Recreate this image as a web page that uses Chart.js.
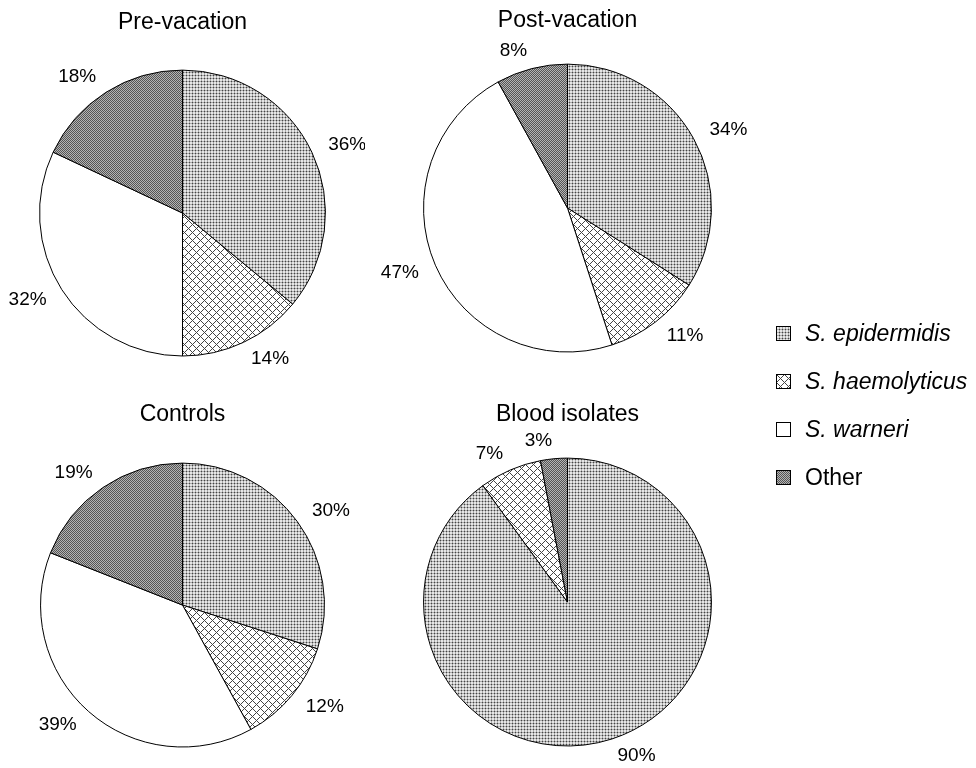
<!DOCTYPE html>
<html>
<head>
<meta charset="utf-8">
<script src="https://cdn.jsdelivr.net/npm/chart.js@4.4.1/dist/chart.umd.min.js"></script>
<style>
  body { margin: 0; background: #fff; width: 976px; height: 768px; position: relative; overflow: hidden;
         font-family: "Liberation Sans", Arial, Helvetica, sans-serif; }
  canvas.pie { position: absolute; }
  #legend { position: absolute; left: 776px; top: 309px; }
  .row { height: 48px; display: flex; align-items: center; font-size: 23px; color: #000; }
  .row canvas { margin-right: 14px; }
</style>
</head>
<body>
<canvas id="pre" class="pie" width="365" height="384" style="left:0;top:0"></canvas>
<canvas id="post" class="pie" width="405" height="384" style="left:365px;top:0"></canvas>
<canvas id="controls" class="pie" width="365" height="384" style="left:0;top:384px"></canvas>
<canvas id="blood" class="pie" width="405" height="384" style="left:365px;top:384px"></canvas>
<div id="legend"></div>
<script>
// data (percent of isolates)
const speciesLabels = ['S. epidermidis', 'S. haemolyticus', 'S. warneri', 'Other'];
const preVacation = [36, 14, 32, 18];
const postVacation = [34, 11, 47, 8];
const controls = [30, 12, 39, 19];
const bloodIsolates = [90, 7, 0, 3];

const FONT = '"Liberation Sans", Arial, Helvetica, sans-serif';

// small bitmap tiles to imitate the printed fill patterns
function makeTile(size, fn) {
    const c = document.createElement('canvas');
    c.width = c.height = size;
    const g = c.getContext('2d');
    for (let y = 0; y < size; y++) {
        for (let x = 0; x < size; x++) {
            g.fillStyle = fn(x, y);
            g.fillRect(x, y, 1, 1);
        }
    }
    return c;
}

const tiles = [
    makeTile(3, (x, y) => (x === 0 && y === 0) ? '#444' : (x === 0 || y === 0) ? '#aaa' : '#e6e6e6'),
    makeTile(8, (x, y) => ((x + y) % 8 === 0 || (x - y + 8) % 8 === 0) ? '#444' : '#fff'),
    makeTile(1, () => '#fff'),
    makeTile(2, (x, y) => (x + y) % 2 === 0 ? '#555' : '#b4b4b4')
];

function patternsFor(ctx) {
    return tiles.map(t => ctx.createPattern(t, 'repeat'));
}

// percentage labels just outside each slice, pushed away from the pie side
const pctLabels = {
    id: 'pctLabels',
    afterDatasetsDraw(chart) {
        const ctx = chart.ctx;
        const meta = chart.getDatasetMeta(0);
        const values = chart.data.datasets[0].data;
        ctx.save();
        ctx.font = '19px ' + FONT;
        ctx.fillStyle = '#000';
        ctx.textBaseline = 'middle';
        meta.data.forEach((arc, i) => {
            if (!values[i]) return;
            const p = arc.getProps(['x', 'y', 'startAngle', 'endAngle', 'outerRadius'], true);
            const mid = (p.startAngle + p.endAngle) / 2;
            const dx = Math.cos(mid), dy = Math.sin(mid);
            const dist = p.outerRadius + 18;
            ctx.textAlign = dx >= 0 ? 'left' : 'right';
            ctx.fillText(values[i] + '%', p.x + dx * dist, p.y + dy * dist);
        });
        ctx.restore();
    }
};

function makePie(id, title, values, box) {
    const canvas = document.getElementById(id);
    const ctx = canvas.getContext('2d');
    return new Chart(ctx, {
        type: 'pie',
        data: {
            labels: speciesLabels,
            datasets: [{
                data: values,
                backgroundColor: patternsFor(ctx),
                borderColor: '#000',
                borderWidth: 1,
                hoverOffset: 0
            }]
        },
        options: {
            responsive: false,
            animation: false,
            events: [],
            layout: { padding: box.padding },
            plugins: {
                legend: { display: false },
                tooltip: { enabled: false },
                title: {
                    display: true,
                    text: title,
                    color: '#000',
                    font: { family: FONT, size: 23, weight: 'normal', lineHeight: 1.2 },
                    padding: { top: box.titleTop, bottom: box.titleBottom }
                }
            }
        },
        plugins: [pctLabels]
    });
}

makePie('pre', 'Pre-vacation', preVacation,
    { padding: { left: 39, right: 39, top: 0, bottom: 27.5 }, titleTop: 9, titleBottom: 33 });
makePie('post', 'Post-vacation', postVacation,
    { padding: { left: 58, right: 58, top: 0, bottom: 31.5 }, titleTop: 7, titleBottom: 29 });
makePie('controls', 'Controls', controls,
    { padding: { left: 40, right: 40, top: 0, bottom: 20.5 }, titleTop: 17, titleBottom: 34 });
makePie('blood', 'Blood isolates', bloodIsolates,
    { padding: { left: 58, right: 58, top: 0, bottom: 21.5 }, titleTop: 17, titleBottom: 29 });

// legend built from the same labels and fills
const legend = document.getElementById('legend');
speciesLabels.forEach((name, i) => {
    const row = document.createElement('div');
    row.className = 'row';
    const sw = document.createElement('canvas');
    sw.width = 15; sw.height = 15;
    const g = sw.getContext('2d');
    g.fillStyle = g.createPattern(tiles[i], 'repeat');
    g.fillRect(0, 0, 15, 15);
    g.strokeStyle = '#000';
    g.lineWidth = 1;
    g.strokeRect(0.5, 0.5, 14, 14);
    const txt = document.createElement('span');
    txt.textContent = name;
    if (name !== 'Other') txt.style.fontStyle = 'italic';
    row.appendChild(sw);
    row.appendChild(txt);
    legend.appendChild(row);
});
</script>
</body>
</html>
